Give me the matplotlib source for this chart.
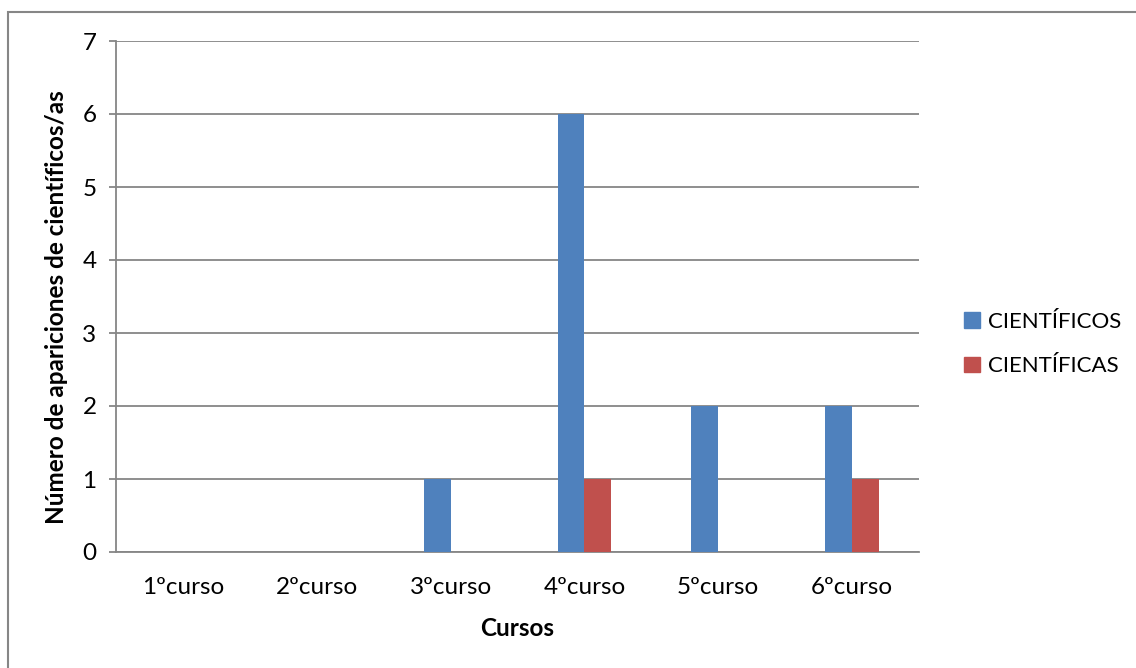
# Bar chart: apariciones de científicos/as por curso

import matplotlib.pyplot as plt
from matplotlib.patches import Rectangle, Patch
import numpy as np

cursos = ['1ºcurso', '2ºcurso', '3ºcurso', '4ºcurso', '5ºcurso', '6ºcurso']
cientificos = [0, 0, 1, 6, 2, 2]
cientificas = [0, 0, 0, 1, 0, 1]

plt.rcParams['font.family'] = ['Lato', 'DejaVu Sans']

W, H = 1136, 668
fig = plt.figure(figsize=(W / 100, H / 100), dpi=100)

# Outer chart frame (only top and left show in the picture)
fig.patches.append(Rectangle((8 / W, -0.1), 1.2, 1.1 - 12 / H,
                             transform=fig.transFigure, fill=False,
                             edgecolor='#868686', linewidth=1.5))

ax = fig.add_axes([116 / W, 1 - 552 / H, (919 - 116) / W, (552 - 41) / H])

x = np.arange(len(cursos))
width = 0.2
blue = '#4F81BD'
red = '#C0504D'
ax.bar(x - width / 2, cientificos, width, color=blue, zorder=3)
ax.bar(x + width / 2, cientificas, width, color=red, zorder=3)

ax.set_xlim(-0.5, len(cursos) - 0.5)
ax.set_ylim(0, 7)
ax.set_yticks(range(8))
ax.set_xticks(x)
ax.set_xticklabels(cursos)

grid_col = '#868686'
ax.yaxis.grid(True, color=grid_col, linewidth=1.3, zorder=0)
for s in ['top', 'right']:
    ax.spines[s].set_visible(False)
for s in ['left', 'bottom']:
    ax.spines[s].set_color(grid_col)
    ax.spines[s].set_linewidth(1.3)
ax.tick_params(axis='y', length=5, color=grid_col, width=1.3, labelsize=17.5, pad=9)
ax.tick_params(axis='x', length=0, labelsize=17.5, pad=18)

ax.set_xlabel('Cursos', fontsize=17.5, fontweight='bold', labelpad=14)
ax.set_ylabel('Número de apariciones de científicos/as', fontsize=17.5,
              fontweight='bold')
ax.yaxis.set_label_coords(-0.06, 0.479)

handles = [Patch(color=blue, label='CIENTÍFICOS'),
           Patch(color=red, label='CIENTÍFICAS')]
fig.legend(handles=handles, loc='center left', bbox_to_anchor=(944 / W, 1 - 344 / H),
           frameon=False, fontsize=16, handlelength=0.7, handleheight=0.7,
           handletextpad=0.4, labelspacing=1.1)

fig.savefig('out.png', dpi=100, facecolor='white')
